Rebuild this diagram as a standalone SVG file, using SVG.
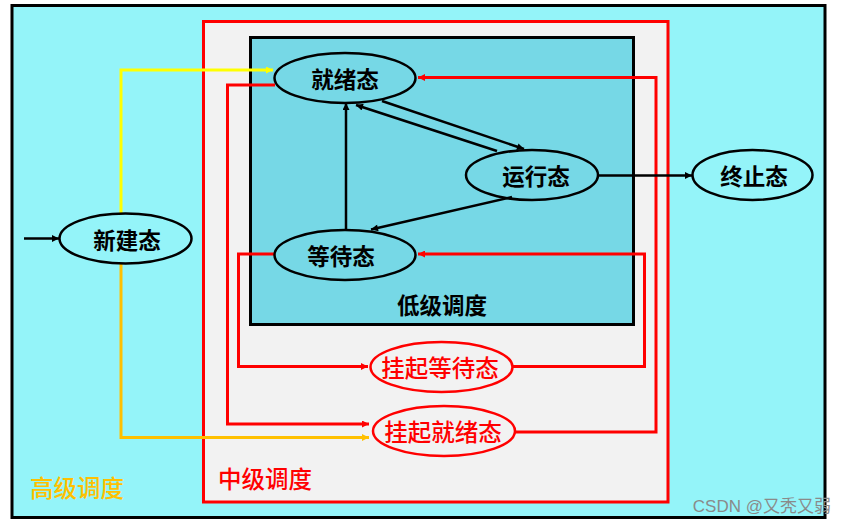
<svg xmlns="http://www.w3.org/2000/svg" width="846" height="525" viewBox="0 0 846 525">
<style>
.node{stroke:#000;stroke-width:2.5;fill:none}
.nodeR{stroke:#FF0000;stroke-width:2.5;fill:none}
.t{font-family:"Noto Sans CJK SC","Noto Sans",sans-serif;font-size:22.5px;font-weight:bold;text-anchor:middle;dominant-baseline:central;fill:#000}
.tr{fill:#FF0000;font-weight:500;font-size:23.5px}
.k{fill:none;stroke:#000;stroke-width:2.5}
.r{fill:none;stroke:#FF0000;stroke-width:3}
</style>
<defs>
<marker id="ak" viewBox="0 0 10 10" refX="10" refY="5" markerWidth="9" markerHeight="7" markerUnits="userSpaceOnUse" orient="auto"><path d="M0,0L10,5L0,10z" fill="#000"/></marker>
<marker id="ar" viewBox="0 0 10 10" refX="10" refY="5" markerWidth="9" markerHeight="7" markerUnits="userSpaceOnUse" orient="auto"><path d="M0,0L10,5L0,10z" fill="#FF0000"/></marker>
<marker id="ay" viewBox="0 0 10 10" refX="10" refY="5" markerWidth="9" markerHeight="7" markerUnits="userSpaceOnUse" orient="auto"><path d="M0,0L10,5L0,10z" fill="#FFFF00"/></marker>
<marker id="ao" viewBox="0 0 10 10" refX="10" refY="5" markerWidth="9" markerHeight="7" markerUnits="userSpaceOnUse" orient="auto"><path d="M0,0L10,5L0,10z" fill="#FFC000"/></marker>
</defs>
<rect x="0" y="0" width="846" height="525" fill="#FFFFFF"/>
<g id="high">
<rect x="12" y="5.5" width="813" height="512" fill="#94F4F9" stroke="#000" stroke-width="3"/>
<text class="t" x="77" y="487" style="fill:#FFC000;font-weight:500;font-size:23.5px">高级调度</text>
</g>
<g id="mid">
<rect x="203.5" y="21.5" width="464.5" height="480.5" fill="#F2F2F2" stroke="#FF0000" stroke-width="3"/>
<text class="t" x="265" y="478" style="fill:#FF0000;font-weight:500;font-size:23.5px">中级调度</text>
</g>
<g id="low">
<rect x="250.5" y="37.5" width="383" height="287" fill="#76D8E6" stroke="#000" stroke-width="3"/>
<text class="t" x="442" y="304">低级调度</text>
</g>
<g id="connectors">
<line class="k" x1="24" y1="238.5" x2="59" y2="238.5" marker-end="url(#ak)"/>
<polyline points="121,213 121,70 273,70" fill="none" stroke="#FFFF00" stroke-width="3" marker-end="url(#ay)"/>
<polyline points="121,264 121,437.5 369,437.5" fill="none" stroke="#FFC000" stroke-width="3" marker-end="url(#ao)"/>
<polyline class="r" points="275,85 227.5,85 227.5,424 369,424" marker-end="url(#ar)"/>
<polyline class="r" points="515,432 656,432 656,77.5 418,77.5" marker-end="url(#ar)"/>
<polyline class="r" points="275,254 238.5,254 238.5,366.5 368,366.5" marker-end="url(#ar)"/>
<polyline class="r" points="513,366.5 644.5,366.5 644.5,254 418,254" marker-end="url(#ar)"/>
<line class="k" x1="382" y1="101" x2="524" y2="149" marker-end="url(#ak)"/>
<line class="k" x1="497" y1="151" x2="356" y2="105" marker-end="url(#ak)"/>
<line class="k" x1="512" y1="197" x2="371" y2="229.5" marker-end="url(#ak)"/>
<line class="k" x1="346" y1="230" x2="346" y2="103" marker-end="url(#ak)"/>
<line class="k" x1="598" y1="175.5" x2="692" y2="175.5" marker-end="url(#ak)"/>
</g>
<g id="n-ready">
<ellipse class="node" cx="345" cy="78" rx="70.5" ry="25"/>
<text class="t" x="345" y="78">就绪态</text>
</g>
<g id="n-running">
<ellipse class="node" cx="532" cy="175" rx="66" ry="25"/>
<text class="t" x="536" y="175">运行态</text>
</g>
<g id="n-wait">
<ellipse class="node" cx="345" cy="255" rx="70.5" ry="25"/>
<text class="t" x="341" y="255">等待态</text>
</g>
<g id="n-new">
<ellipse class="node" cx="125.5" cy="238.5" rx="66" ry="25"/>
<text class="t" x="127" y="238.5">新建态</text>
</g>
<g id="n-exit">
<ellipse class="node" cx="752.5" cy="175" rx="60" ry="25"/>
<text class="t" x="754" y="175">终止态</text>
</g>
<g id="n-suswait">
<ellipse class="nodeR" cx="441.5" cy="367" rx="71" ry="25"/>
<text class="t tr" x="440" y="367">挂起等待态</text>
</g>
<g id="n-susready">
<ellipse class="nodeR" cx="444" cy="431" rx="71" ry="25"/>
<text class="t tr" x="443" y="431">挂起就绪态</text>
</g>
<text x="831" y="506" style="font-family:'Liberation Sans','Noto Sans CJK SC',sans-serif;font-size:17px;fill:#8A8A8A;text-anchor:end;dominant-baseline:central">CSDN @又秃又弱</text>
</svg>
